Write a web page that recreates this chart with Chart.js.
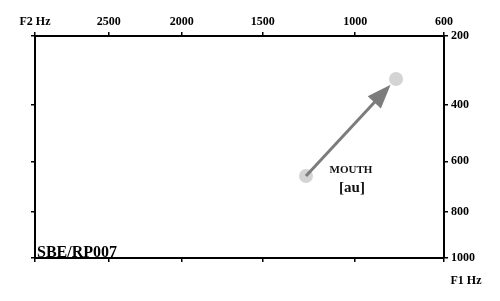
<!DOCTYPE html>
<html>
<head>
<meta charset="utf-8">
<script src="https://cdn.jsdelivr.net/npm/chart.js@4"></script>
<style>
  body { margin: 0; background: #fff; }
  .wrap { width: 500px; height: 301px; }
</style>
</head>
<body>
<div class="wrap"><canvas class="vowel-chart"></canvas></div>
<script>
// formant data (Hz)
const vowel = 'MOUTH';
const ipa = '[au]';
const f2 = [1256, 806];   // start, end
const f1 = [656, 320];
const f2Ticks = [3050, 2500, 2000, 1500, 1000, 600];
const f1Ticks = [200, 400, 600, 800, 1000];
const speaker = 'SBE/RP007';

// axis stretched by value^power (neither linear nor log in the original)
class PowerScale extends Chart.LinearScale {
    getPixelForValue(value) {
        const p = this.options.power || 1;
        const a = Math.pow(this.min, p), b = Math.pow(this.max, p);
        return this.getPixelForDecimal((Math.pow(value, p) - a) / (b - a));
    }
    getValueForPixel(pixel) {
        const p = this.options.power || 1;
        const a = Math.pow(this.min, p), b = Math.pow(this.max, p);
        return Math.pow(a + this.getDecimalForPixel(pixel) * (b - a), 1 / p);
    }
}
PowerScale.id = 'power';
PowerScale.defaults = Chart.LinearScale.defaults;
Chart.register(PowerScale);

const font = { family: 'Liberation Serif', weight: 'bold', size: 12 };

function axis(pos, ticks, power, show, size) {
    const horiz = pos === 'top' || pos === 'bottom';
    return {
        type: 'power',
        position: pos,
        power: power,
        min: Math.min(...ticks),
        max: Math.max(...ticks),
        reverse: true,
        afterBuildTicks: s => { s.ticks = ticks.map(v => ({ value: v })); },
        afterFit: s => { if (horiz) s.height = size; else s.width = size; },
        border: { display: true, color: '#000', width: 2 },
        grid: { drawOnChartArea: false, drawTicks: true, tickLength: 4, color: '#000', lineWidth: 1.5 },
        ticks: {
            display: show,
            autoSkip: false,
            maxRotation: 0,
            padding: 3,
            color: '#000',
            font: font,
            callback: v => v === 3050 ? 'F2 Hz' : String(v)
        }
    };
}

const arrowPlugin = {
    id: 'arrow',
    afterDatasetsDraw(chart) {
        const c = chart.ctx, x = chart.scales.x, y = chart.scales.y;
        const x0 = x.getPixelForValue(f2[0]), y0 = y.getPixelForValue(f1[0]);
        const x1 = x.getPixelForValue(f2[1]), y1 = y.getPixelForValue(f1[1]);
        const len = Math.hypot(x1 - x0, y1 - y0);
        const ux = (x1 - x0) / len, uy = (y1 - y0) / len;
        const tx = x1 - ux * 8, ty = y1 - uy * 8;
        const bx = tx - ux * 24, by = ty - uy * 24;
        c.save();
        c.strokeStyle = '#7c7c7c';
        c.fillStyle = '#7c7c7c';
        c.lineWidth = 3;
        c.beginPath();
        c.moveTo(x0, y0);
        c.lineTo(bx + ux * 2, by + uy * 2);
        c.stroke();
        c.beginPath();
        c.moveTo(tx, ty);
        c.lineTo(bx - uy * 9, by + ux * 9);
        c.lineTo(bx + uy * 9, by - ux * 9);
        c.closePath();
        c.fill();

        c.fillStyle = '#111';
        c.textAlign = 'center';
        c.textBaseline = 'middle';
        c.font = 'bold 11px "Liberation Serif"';
        c.fillText(vowel, x0 + 45, y0 - 6);
        c.font = 'bold 15px "Liberation Serif"';
        c.fillText(ipa, x0 + 46, y0 + 12);

        c.fillStyle = '#000';
        c.textAlign = 'left';
        c.textBaseline = 'alphabetic';
        c.font = 'bold 16px "Liberation Serif"';
        c.fillText(speaker, chart.chartArea.left + 2, chart.chartArea.bottom - 1);
        c.textAlign = 'center';
        c.font = 'bold 12px "Liberation Serif"';
        c.fillText('F1 Hz', chart.chartArea.right + 22, chart.chartArea.bottom + 26);
        c.restore();
    }
};

new Chart(document.querySelector('.vowel-chart'), {
    type: 'scatter',
    data: {
        datasets: [{
            label: vowel,
            data: f2.map((v, i) => ({ x: v, y: f1[i] })),
            backgroundColor: '#d4d4d4',
            borderWidth: 0,
            pointRadius: 7,
            xAxisID: 'x',
            yAxisID: 'y'
        }]
    },
    options: {
        responsive: true,
        maintainAspectRatio: false,
        animation: false,
        layout: { padding: 0 },
        scales: {
            x: axis('top', f2Ticks, 0.6, true, 36),
            x2: axis('bottom', f2Ticks, 0.6, false, 43),
            y: axis('right', f1Ticks, 0.65, true, 56),
            y2: axis('left', f1Ticks, 0.65, false, 35)
        },
        plugins: {
            legend: { display: false },
            tooltip: { enabled: false }
        }
    },
    plugins: [arrowPlugin]
});
</script>
</body>
</html>
